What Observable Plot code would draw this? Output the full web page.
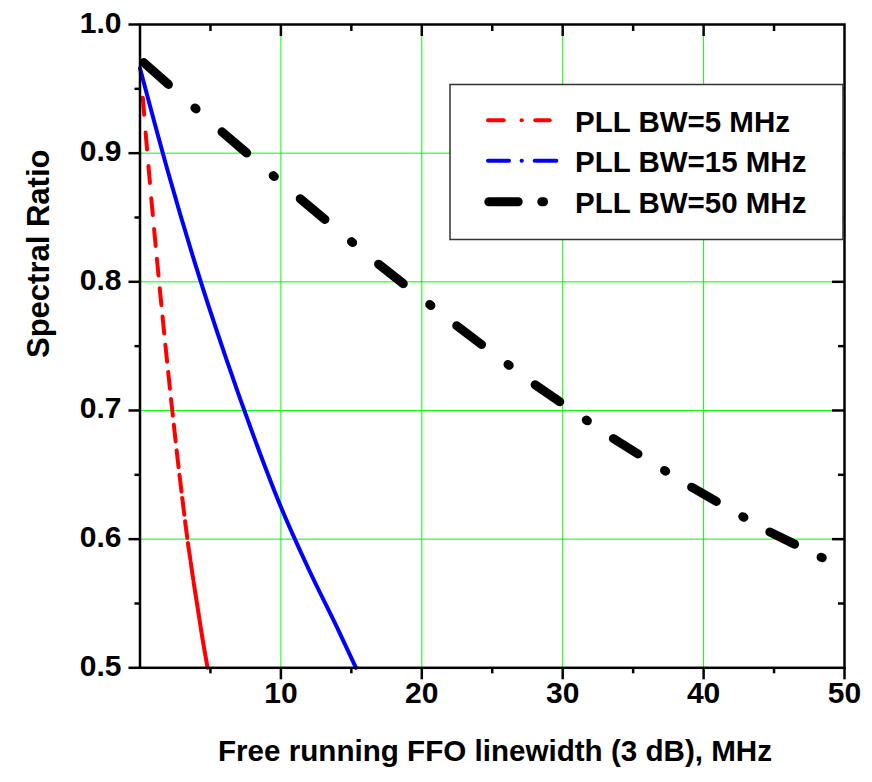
<!DOCTYPE html>
<html>
<head>
<meta charset="utf-8">
<script src="https://cdn.jsdelivr.net/npm/d3@7"></script>
<script src="https://cdn.jsdelivr.net/npm/@observablehq/plot@0.6"></script>
<style>
  body { margin: 0; background: #fff; }
</style>
</head>
<body>
<div id="chart"></div>
<script>
// ---------- data ----------
const xTitle = "Free running FFO linewidth (3 dB), MHz";
const yTitle = "Spectral Ratio";
const legendLabels = ["PLL BW=5 MHz", "PLL BW=15 MHz", "PLL BW=50 MHz"];

const xTicks = [10, 20, 30, 40, 50];
const xMinor = [5, 15, 25, 35, 45];
const yTicks = [0.5, 0.6, 0.7, 0.8, 0.9, 1.0];
const yMinor = [0.55, 0.65, 0.75, 0.85, 0.95];

// PLL BW = 5 MHz (red)
const redX = [0.2, 0.4, 0.6, 0.8, 1.0, 1.2, 1.4, 1.6, 1.8, 2.0, 2.2, 2.4, 2.6, 2.8, 3.0, 3.2, 3.4, 3.6, 3.8, 4.0, 4.2, 4.4, 4.6, 4.8];
const redY = [0.943, 0.916, 0.890, 0.865, 0.841, 0.818, 0.795, 0.773, 0.751, 0.730, 0.709, 0.689, 0.669, 0.650, 0.632, 0.614, 0.597, 0.582, 0.567, 0.553, 0.539, 0.525, 0.512, 0.500];

// PLL BW = 15 MHz (blue)
const blueX = [0, 2, 4, 6, 8, 10, 12, 14, 15.33];
const blueY = [0.966, 0.885, 0.811, 0.744, 0.682, 0.625, 0.576, 0.531, 0.500];

// PLL BW = 50 MHz (black)
const blackX = [0, 5.56, 11.11, 16.67, 22.22, 27.78, 33.33, 38.89, 44.44, 50];
const blackY = [0.973, 0.919, 0.867, 0.816, 0.768, 0.722, 0.680, 0.642, 0.607, 0.577];

// ---------- layout ----------
const W = 872, H = 782;
const mL = 139.5, mR = 28, mT = 24, mB = 114.7;
const plotW = W - mL - mR, plotH = H - mT - mB;
const FONT = "'Liberation Sans', Arial, Helvetica, sans-serif";

const pts = (xs, ys) => xs.map((x, i) => ({x, y: ys[i]}));
const redSegs = d3.pairs(pts(redX, redY));
const blackSegs = d3.pairs(pts(blackX, blackY));
const bluePts = pts(blueX, blueY);

const xGrid = xTicks.filter(d => d < 50);
const yGrid = yTicks.filter(d => d > 0.5 && d < 1.0);

const svg = Plot.plot({
  width: W, height: H,
  marginLeft: mL, marginRight: mR, marginTop: mT, marginBottom: mB,
  style: {fontFamily: FONT, fontWeight: "bold", background: "white", color: "black"},
  x: {domain: [0, 50], axis: null},
  y: {domain: [0.5, 1.0], axis: null},
  marks: [
    Plot.ruleX(xGrid, {x: d => d, stroke: "#00ff00", strokeWidth: 1}),
    Plot.ruleY(yGrid, {y: d => d, stroke: "#00ff00", strokeWidth: 1}),
    // curves
    Plot.line(bluePts, {x: "x", y: "y", stroke: "#0000ff", strokeWidth: 4, curve: "monotone-x", strokeLinecap: "round"}),
    Plot.link(redSegs, {x1: p => p[0].x, y1: p => p[0].y, x2: p => p[1].x, y2: p => p[1].y,
      stroke: "#ff0000", strokeWidth: 4, strokeLinecap: "round", strokeDasharray: "17,200"}),
    Plot.link(blackSegs, {x1: p => p[0].x, y1: p => p[0].y, x2: p => p[1].x, y2: p => p[1].y,
      stroke: "black", strokeWidth: 9, strokeLinecap: "round"}),
    // frame
    Plot.frame({stroke: "black", strokeWidth: 2.5}),
    // bottom ticks (outward)
    Plot.ruleX(xTicks, {x: d => d, insetTop: plotH, insetBottom: -12, stroke: "black", strokeWidth: 2.5}),
    Plot.ruleX(xMinor, {x: d => d, insetTop: plotH, insetBottom: -6, stroke: "black", strokeWidth: 2.5}),
    // top ticks (inward)
    Plot.ruleX(xGrid, {x: d => d, insetTop: 0, insetBottom: plotH - 12, stroke: "black", strokeWidth: 2.5}),
    Plot.ruleX(xMinor, {x: d => d, insetTop: 0, insetBottom: plotH - 7, stroke: "black", strokeWidth: 2.5}),
    // left ticks (outward)
    Plot.ruleY(yTicks, {y: d => d, insetLeft: -11, insetRight: plotW, stroke: "black", strokeWidth: 2.5}),
    Plot.ruleY(yMinor, {y: d => d, insetLeft: -5, insetRight: plotW, stroke: "black", strokeWidth: 2.5}),
    // right ticks (inward)
    Plot.ruleY(yGrid, {y: d => d, insetLeft: plotW - 12, insetRight: 0, stroke: "black", strokeWidth: 2.5}),
    Plot.ruleY(yMinor, {y: d => d, insetLeft: plotW - 6, insetRight: 0, stroke: "black", strokeWidth: 2.5}),
    // tick labels
    Plot.text(xTicks, {x: d => d, text: d => String(d), frameAnchor: "bottom", dy: 35.3, fontSize: 30, fontWeight: "bold", fill: "black"}),
    Plot.text(yTicks, {y: d => d, text: d => d.toFixed(1), frameAnchor: "left", textAnchor: "end", dx: -18.5, dy: -1.6, fontSize: 30, fontWeight: "bold", fill: "black"}),
    // axis titles
    Plot.text([xTitle], {frameAnchor: "bottom", dy: 93.1, dx: 2.75, fontSize: 29.6, fontWeight: "bold", fill: "black"}),
    Plot.text([yTitle], {frameAnchor: "left", rotate: -90, dx: -101.4, dy: 11.85, fontSize: 31, fontWeight: "bold", fill: "black"})
  ]
});

// Black dash-dot pattern scaled to each segment (one period per segment)
svg.querySelectorAll('g[stroke-width="9"] path, g[stroke-width="9"] line').forEach(p => {
  p.setAttribute("pathLength", "100");
  p.setAttribute("stroke-dasharray", "31.6,33.8,1.5,33.1");
  p.setAttribute("stroke-dashoffset", "95.3");
});

// ---------- legend (inside the plot frame) ----------
const lg = d3.select(svg).append("g")
  .attr("font-family", FONT).attr("font-weight", "bold").attr("text-anchor", "start");
lg.append("rect").attr("x", 450).attr("y", 84.5).attr("width", 393).attr("height", 155)
  .attr("fill", "white").attr("stroke", "#333").attr("stroke-width", 1.5);

const legendColors = ["#ff0000", "#0000ff", "#000000"];
const legendWidths = [4, 4, 9];
const legendRowY = [120.3, 160.7, 201.7];
const legendBase = [131.7, 171.7, 213.3];
const legendSamples = [
  [[488, 503.7], [521.6, 521.8], [535.3, 549.7]],
  [[488, 509], [521.6, 521.8], [534.7, 556.3]],
  [[488.8, 518.2], [541.8, 543.6]]
];
legendLabels.forEach((lab, i) => {
  legendSamples[i].forEach(([a, b]) => {
    lg.append("line").attr("x1", a).attr("x2", b)
      .attr("y1", legendRowY[i]).attr("y2", legendRowY[i])
      .attr("stroke", legendColors[i]).attr("stroke-width", legendWidths[i])
      .attr("stroke-linecap", "round");
  });
  lg.append("text").attr("x", 575).attr("y", legendBase[i])
    .attr("font-size", 29.5).attr("fill", "black").attr("text-anchor", "start").text(lab);
});

document.getElementById("chart").appendChild(svg);
</script>
</body>
</html>
